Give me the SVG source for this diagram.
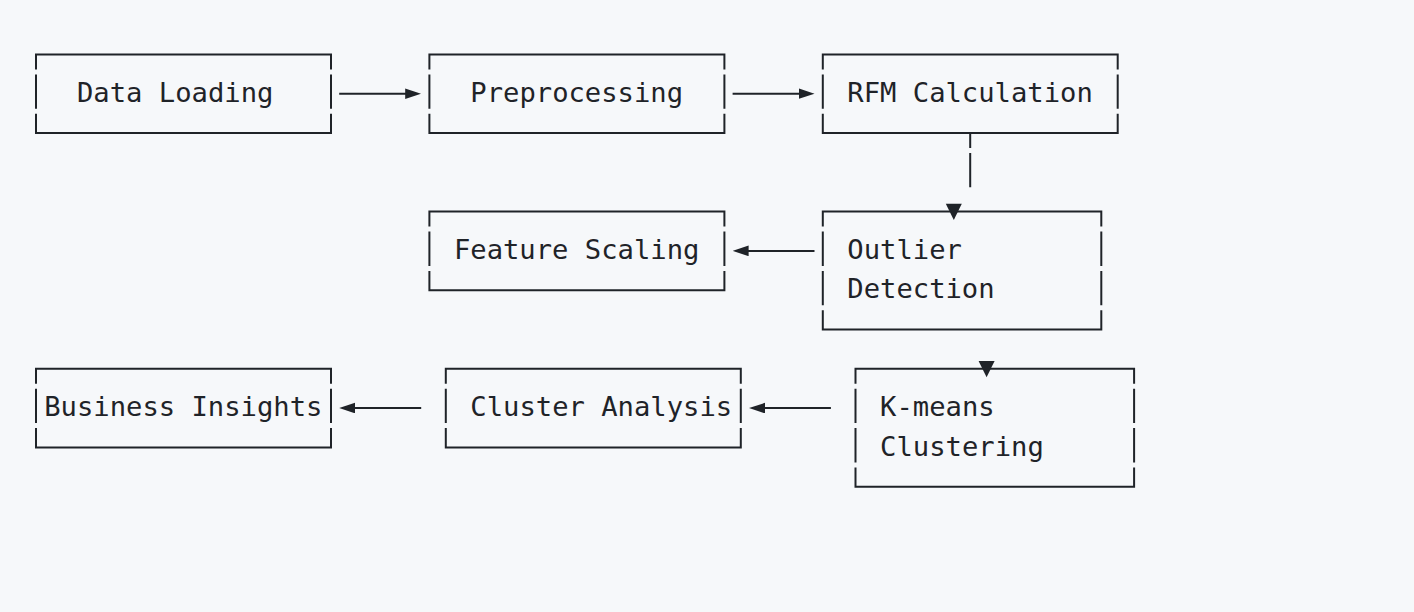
<svg xmlns="http://www.w3.org/2000/svg" width="1414" height="612" viewBox="0 0 1414 612">
<style>
.bx{fill:none;stroke:#1f2328;stroke-width:2;stroke-linecap:butt}
.t{font-family:"DejaVu Sans Mono","Liberation Mono",monospace;font-size:27.2px;fill:#1f2328}
.cn{fill:none;stroke:#1f2328;stroke-width:2}
.hd{fill:#1f2328}
</style>
<defs>
<marker id="ah" markerUnits="userSpaceOnUse" markerWidth="16" markerHeight="11" refX="8" refY="5.3" orient="auto"><path d="M0,0 L16,5.3 L0,10.6 z" fill="#1f2328"/></marker>
</defs>
<rect width="1414" height="612" fill="#f6f8fa"/>

<g id="data-loading">
<path class="bx" d="M35,54.4 H332 M35,133 H332 M36,54.4 V69.4 M36,74.4 V108.7 M36,113.7 V133 M331,54.4 V69.4 M331,74.4 V108.7 M331,113.7 V133"/>
<text class="t" x="77" y="101.9">Data Loading</text>
</g>

<g id="preprocessing">
<path class="bx" d="M428.4,54.4 H725.4 M428.4,133 H725.4 M429.4,54.4 V69.4 M429.4,74.4 V108.7 M429.4,113.7 V133 M724.4,54.4 V69.4 M724.4,74.4 V108.7 M724.4,113.7 V133"/>
<text class="t" x="470.3" y="101.9">Preprocessing</text>
</g>

<g id="rfm-calculation">
<path class="bx" d="M821.8,54.4 H1118.7 M821.8,133 H1118.7 M822.8,54.4 V69.4 M822.8,74.4 V108.7 M822.8,113.7 V133 M1117.7,54.4 V69.4 M1117.7,74.4 V108.7 M1117.7,113.7 V133"/>
<text class="t" x="847.3" y="101.9">RFM Calculation</text>
</g>

<g id="feature-scaling">
<path class="bx" d="M428.4,211.6 H725.4 M428.4,290.2 H725.4 M429.4,211.6 V226.6 M429.4,231.6 V265.9 M429.4,270.9 V290.2 M724.4,211.6 V226.6 M724.4,231.6 V265.9 M724.4,270.9 V290.2"/>
<text class="t" x="453.9" y="259.1">Feature Scaling</text>
</g>

<g id="outlier-detection">
<path class="bx" d="M821.8,211.6 H1102.3 M821.8,329.5 H1102.3 M822.8,211.6 V226.6 M822.8,231.6 V265.9 M822.8,270.9 V305.2 M822.8,310.2 V329.5 M1101.3,211.6 V226.6 M1101.3,231.6 V265.9 M1101.3,270.9 V305.2 M1101.3,310.2 V329.5"/>
<text class="t" x="847.3" y="259.1">Outlier</text>
<text class="t" x="847.3" y="298.4">Detection</text>
</g>

<g id="business-insights">
<path class="bx" d="M35,368.8 H332 M35,447.4 H332 M36,368.8 V383.8 M36,388.8 V423.1 M36,428.1 V447.4 M331,368.8 V383.8 M331,388.8 V423.1 M331,428.1 V447.4"/>
<text class="t" x="44.2" y="416.3">Business Insights</text>
</g>

<g id="cluster-analysis">
<path class="bx" d="M444.8,368.8 H741.8 M444.8,447.4 H741.8 M445.8,368.8 V383.8 M445.8,388.8 V423.1 M445.8,428.1 V447.4 M740.8,368.8 V383.8 M740.8,388.8 V423.1 M740.8,428.1 V447.4"/>
<text class="t" x="470.3" y="416.3">Cluster Analysis</text>
</g>

<g id="kmeans-clustering">
<path class="bx" d="M854.5,368.8 H1135.1 M854.5,486.7 H1135.1 M855.5,368.8 V383.8 M855.5,388.8 V423.1 M855.5,428.1 V462.4 M855.5,467.4 V486.7 M1134.1,368.8 V383.8 M1134.1,388.8 V423.1 M1134.1,428.1 V462.4 M1134.1,467.4 V486.7"/>
<text class="t" x="880.1" y="416.3">K-means</text>
<text class="t" x="880.1" y="455.6">Clustering</text>
</g>

<g id="connectors">
<path class="cn" d="M339.2,93.7 H413.2" marker-end="url(#ah)"/>
<path class="cn" d="M732.6,93.7 H806.5" marker-end="url(#ah)"/>
<path class="cn" d="M970.2,133 V148 M970.2,153 V187.3"/>
<polygon class="hd" points="945.8,203.8 961.8,203.8 953.8,220.1"/>
<path class="cn" d="M814.5,250.9 H740.6" marker-end="url(#ah)"/>
<polygon class="hd" points="978.6,361.0 994.6,361.0 986.6,377.3"/>
<path class="cn" d="M830.9,408.1 H757" marker-end="url(#ah)"/>
<path class="cn" d="M421.2,408.1 H347.2" marker-end="url(#ah)"/>
</g>
</svg>
